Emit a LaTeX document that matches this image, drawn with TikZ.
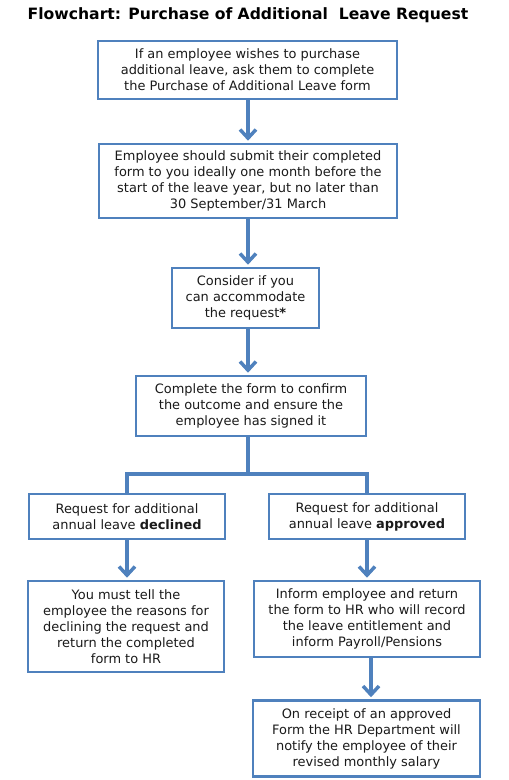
\documentclass[tikz,border=0pt]{standalone}
\usepackage{fontspec}
\setmainfont{DejaVu Sans}
\usetikzlibrary{arrows.meta}
\definecolor{boxblue}{HTML}{4F81BD}
\definecolor{txt}{HTML}{1A1A1A}
\tikzset{
  flowbox/.style={draw=boxblue, line width=1.9pt, fill=white, inner sep=0pt,
    align=center, text=txt, font=\fontsize{9.7}{12}\selectfont},
  conn/.style={draw=boxblue, line width=2.6pt},
  arr/.style={conn, -{Straight Barb[length=6.5pt,width=12pt]}, shorten >=1.5pt},
}
\begin{document}
\begin{tikzpicture}[x=0.75pt,y=-0.75pt]
\useasboundingbox (0,0) rectangle (509,780);
\node[anchor=base, font=\bfseries\fontsize{11.7}{14}\selectfont, text=black] (title) at (248,20) {Flowchart: Purchase of Additional\ \ Leave Request};

\node[flowbox, minimum width=299*0.75pt, minimum height=58*0.75pt] (b1) at (247.5,70)
  {If an employee wishes to purchase\\additional leave, ask them to complete\\the Purchase of Additional Leave form};
\node[flowbox, minimum width=298*0.75pt, minimum height=74*0.75pt] (b2) at (248,181)
  {Employee should submit their completed\\form to you ideally one month before the\\start of the leave year, but no later than\\30 September/31 March};
\node[flowbox, minimum width=147*0.75pt, minimum height=60*0.75pt] (b3) at (245.5,298)
  {Consider if you\\can accommodate\\the request\textbf{*}};
\node[flowbox, minimum width=230*0.75pt, minimum height=60*0.75pt] (b4) at (251,406)
  {Complete the form to confirm\\the outcome and ensure the\\employee has signed it};
\node[flowbox, minimum width=196*0.75pt, minimum height=45*0.75pt] (b5) at (127,516.5)
  {Request for additional\\annual leave \textbf{declined}};
\node[flowbox, minimum width=196*0.75pt, minimum height=45*0.75pt] (b6) at (367,516.5)
  {Request for additional\\annual leave \textbf{approved}};
\node[flowbox, minimum width=196*0.75pt, minimum height=91*0.75pt] (b7) at (126,626.5)
  {You must tell the\\employee the reasons for\\declining the request and\\return the completed\\form to HR};
\node[flowbox, minimum width=226*0.75pt, minimum height=76*0.75pt] (b8) at (367,619)
  {Inform employee and return\\the form to HR who will record\\the leave entitlement and\\inform Payroll/Pensions};
\node[flowbox, minimum width=227*0.75pt, minimum height=76*0.75pt] (b9) at (366.5,738.5)
  {On receipt of an approved\\Form the HR Department will\\notify the employee of their\\revised monthly salary};

\coordinate (split) at (248,474);
\draw[arr] (b1.south -| b2.south) -- (b2.north);
\draw[arr] (b2.south) -- (b2.south |- b3.north);
\draw[arr] (b3.south -| b2.south) -- (b2.south |- b4.north);
\draw[conn] (b4.south -| b2.south) -- (split);
\draw[conn] (b5.north) -- (b5.north |- split) -- (b6.north |- split) -- (b6.north);
\draw[arr] (b5.south) -- (b5.south |- b7.north);
\draw[arr] (b6.south) -- (b6.south |- b8.north);
\draw[arr] ([xshift=4*0.75pt]b8.south) -- ([xshift=4*0.75pt]b8.south |- b9.north);
\end{tikzpicture}
\end{document}
